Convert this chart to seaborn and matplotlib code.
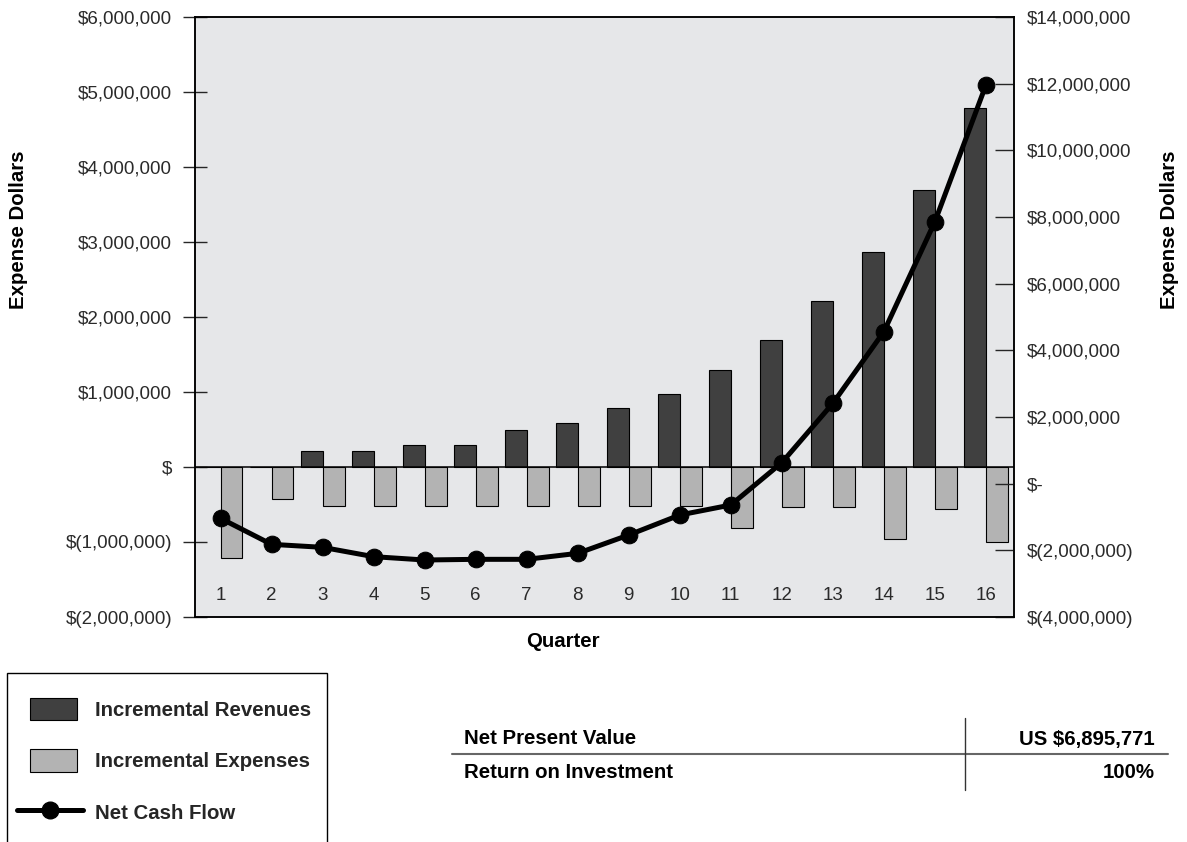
import matplotlib
matplotlib.use('Agg')
import matplotlib.pyplot as plt
from matplotlib.lines import Line2D
from matplotlib.patches import Patch, Rectangle
from matplotlib.legend_handler import HandlerPatch
from matplotlib.ticker import FuncFormatter
import numpy as np
import pandas as pd
import seaborn as sns

# values
quarters = [str(q) for q in range(1, 17)]
revenues = [0, 0, 210000, 210000, 300000, 300000, 500000, 590000,
            790000, 975000, 1290000, 1690000, 2210000, 2870000, 3690000, 4790000]
expenses = [-1210000, -420000, -515000, -515000, -515000, -515000, -515000, -515000,
            -515000, -515000, -810000, -530000, -530000, -960000, -555000, -1000000]
net_cash_flow = [-1040000, -1820000, -1910000, -2190000, -2290000, -2270000, -2270000, -2090000,
                 -1540000, -940000, -640000, 630000, 2410000, 4560000, 7860000, 11960000]
series_names = ['Incremental Revenues', 'Incremental Expenses', 'Net Cash Flow']
table_rows = ['Net Present Value', 'Return on Investment']
table_values = ['US $6,895,771', '100%']

dark = '#404040'
light = '#b3b3b3'
bg = '#e6e7e9'
tick_col = '#2a2a2a'

sns.set_style('white')
plt.rcParams['font.family'] = ['Liberation Sans', 'DejaVu Sans']

W, H = 1187, 842
def fx(px):
    return px / W
def fy(py):
    return 1 - py / H

df = pd.DataFrame({
    'Quarter': quarters * 2,
    'Value': revenues + expenses,
    'Series': [series_names[0]] * len(quarters) + [series_names[1]] * len(quarters),
})

fig = plt.figure(figsize=(W / 100, H / 100), dpi=100)
ax = fig.add_axes([fx(195), fy(617), (1014 - 195) / W, 600 / H])
ax.set_facecolor(bg)

sns.barplot(data=df, x='Quarter', y='Value', hue='Series', order=quarters,
            palette=[dark, light], width=0.86, edgecolor='black', linewidth=0.8,
            errorbar=None, legend=False, ax=ax)
ax.axhline(0, color='black', lw=1.1, zorder=3)

ax2 = ax.twinx()
sns.lineplot(x=np.arange(len(quarters)), y=net_cash_flow, ax=ax2, color='black',
             linewidth=3.6, marker='o', markersize=12, markeredgecolor='black')

ax.set_xlim(-0.5, 15.55)
ax.set_ylim(-2e6, 6e6)
ax2.set_ylim(-4e6, 14e6)
ax.set_yticks(np.arange(-2e6, 6e6 + 1, 1e6))
ax2.set_yticks(np.arange(-4e6, 14e6 + 1, 2e6))

def left_fmt(v, pos):
    if v == 0:
        return '$'
    if v < 0:
        return f'$({abs(v):,.0f})'
    return f'${v:,.0f}'

def right_fmt(v, pos):
    if v == 0:
        return '$-'
    if v < 0:
        return f'$({abs(v):,.0f})'
    return f'${v:,.0f}'

ax.yaxis.set_major_formatter(FuncFormatter(left_fmt))
ax2.yaxis.set_major_formatter(FuncFormatter(right_fmt))

ax.tick_params(axis='x', length=0, pad=-21.6, labelsize=13.5, labelcolor=tick_col)
ax.tick_params(axis='y', direction='inout', length=17.3, width=1, pad=7.9,
               labelsize=13.5, labelcolor=tick_col, left=True)
ax2.tick_params(axis='y', direction='in', length=13.7, width=1, pad=9.4,
                labelsize=13.5, labelcolor=tick_col, right=True)

for a in (ax, ax2):
    for s in a.spines.values():
        s.set_visible(True)
        s.set_color('black')
        s.set_linewidth(1.1)

lab = dict(fontsize=14.7, fontweight='bold', color='black')
ax.set_xlabel('Quarter', **lab)
ax.xaxis.set_label_coords((563 - 195) / 819, -0.025)
ax.set_ylabel('Expense Dollars', **lab)
ax.yaxis.set_label_coords((28 - 195) / 819, 0.645)
ax2.set_ylabel('Expense Dollars', **lab)
ax2.yaxis.set_label_coords((1160 - 195) / 819, 0.645)
ax2.set_xlabel('')

# legend
def narrow_box(legend, orig_handle, xdescent, ydescent, width, height, fontsize):
    w = width * 0.72
    return Rectangle((-xdescent + (width - w) / 2 + 2.5, -ydescent), w, height)

handles = [Patch(facecolor=dark, edgecolor='black', linewidth=0.8),
           Patch(facecolor=light, edgecolor='black', linewidth=0.8),
           Line2D([], [], color='black', linewidth=3.6, marker='o', markersize=12)]
fig.legend(handles, series_names, loc='upper left', bbox_to_anchor=(fx(17), fy(697.5)),
           frameon=False, borderpad=0, borderaxespad=0, handlelength=3.23,
           handleheight=1.32, handletextpad=0.59, labelspacing=1.43,
           prop={'weight': 'bold', 'size': 14.7},
           handler_map={Patch: HandlerPatch(patch_func=narrow_box)})
fig.patches.append(Rectangle((fx(7), fy(860)), 320 / W, (860 - 673) / H, fill=False,
                             edgecolor='black', linewidth=1, transform=fig.transFigure))

# summary table
for label, value, ypx in zip(table_rows, table_values, [739, 772]):
    fig.text(fx(464), fy(ypx), label, ha='left', va='center', **lab)
    fig.text(fx(1155), fy(ypx), value, ha='right', va='center', **lab)
fig.add_artist(Line2D([fx(452), fx(1168)], [fy(754), fy(754)], color='#666666',
                      linewidth=1.5, transform=fig.transFigure))
fig.add_artist(Line2D([fx(965), fx(965)], [fy(718), fy(790)], color='#333333',
                      linewidth=1, transform=fig.transFigure))

fig.savefig('out.png', dpi=100)
plt.close()
